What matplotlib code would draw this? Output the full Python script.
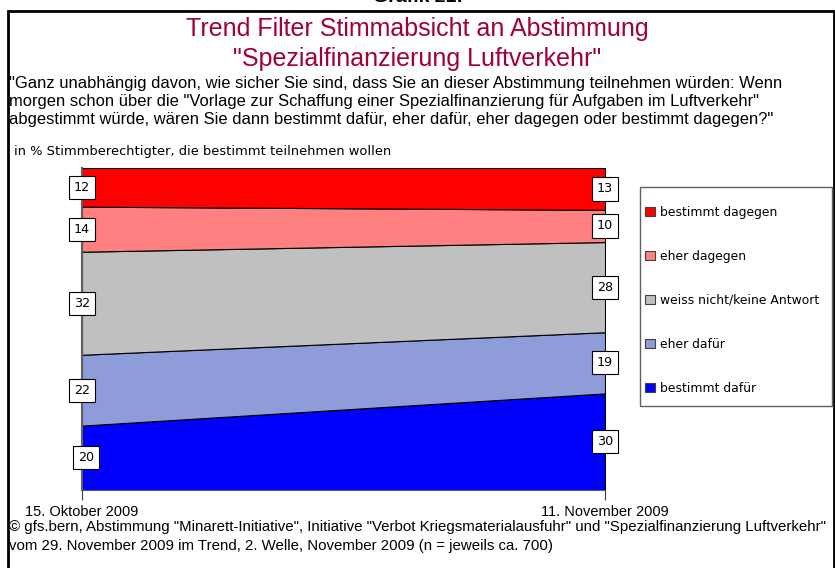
import matplotlib
matplotlib.use('agg')
import matplotlib.pyplot as plt
from matplotlib.patches import Patch, Rectangle

# data (bottom to top of stack)
dates = ["15. Oktober 2009", "11. November 2009"]
categories = ["bestimmt dafür", "eher dafür", "weiss nicht/keine Antwort",
              "eher dagegen", "bestimmt dagegen"]
okt = [20, 22, 32, 14, 12]
nov = [30, 19, 28, 10, 13]
colors = ["#0000FF", "#8E9CDA", "#C0C0C0", "#FF8080", "#FF0000"]

narrow = ['Liberation Sans Narrow', 'Liberation Sans', 'DejaVu Sans']
plt.rcParams['font.family'] = ['DejaVu Sans']

fig = plt.figure(figsize=(8.35, 5.68), dpi=100)
W, H = 835, 568

def fx(px):
    return px / W

def fy(py):
    return 1 - py / H

# outer frame
fig.patches.append(Rectangle((fx(8), fy(575)), fx(834) - fx(8), fy(11) - fy(575),
                             transform=fig.transFigure, fill=False,
                             edgecolor='black', linewidth=2))

fig.text(0.5, fy(-2), "Grafik 21:", ha='center', va='center', fontsize=14,
         fontweight='bold', family=['Liberation Sans', 'DejaVu Sans'])
fig.text(0.5, fy(29), "Trend Filter Stimmabsicht an Abstimmung", ha='center',
         va='center', fontsize=18, color='#A0003C', family=narrow)
fig.text(0.5, fy(59), "\"Spezialfinanzierung Luftverkehr\"", ha='center',
         va='center', fontsize=18, color='#A0003C', family=narrow)
question = ("\"Ganz unabhängig davon, wie sicher Sie sind, dass Sie an dieser Abstimmung teilnehmen würden: Wenn\n"
            "morgen schon über die \"Vorlage zur Schaffung einer Spezialfinanzierung für Aufgaben im Luftverkehr\"\n"
            "abgestimmt würde, wären Sie dann bestimmt dafür, eher dafür, eher dagegen oder bestimmt dagegen?\"")
fig.text(fx(9), fy(76), question, ha='left', va='top', fontsize=11.9,
         family=narrow, linespacing=1.24)
fig.text(fx(14), fy(152), "in % Stimmberechtigter, die bestimmt teilnehmen wollen",
         ha='left', va='center', fontsize=9.4)

ax = fig.add_axes([fx(82), fy(490), fx(605) - fx(82), fy(168) - fy(490)])
x = [0, 1]
series = [[a, b] for a, b in zip(okt, nov)]
ax.stackplot(x, *series, colors=colors, edgecolor='black', linewidth=0.8)
ax.set_xlim(0, 1)
ax.set_ylim(0, 100)
for s in ['top', 'right']:
    ax.spines[s].set_visible(False)
ax.spines['left'].set_color('#606060')
ax.spines['left'].set_linewidth(1.5)
ax.spines['bottom'].set_color('#606060')
ax.set_yticks([])
ax.set_xticks([0, 1])
ax.set_xticklabels(dates, fontsize=10.5, family=narrow)
ax.tick_params(axis='x', length=7, direction='out', color='#404040', pad=4)

# value labels
box = dict(boxstyle='square,pad=0.4', facecolor='white', edgecolor='black', linewidth=0.8)
for xi, vals in zip(x, [okt, nov]):
    base = 0
    for v in vals:
        xpos = xi
        if xi == 0 and base == 0:
            xpos = 0.008
        ax.text(xpos, base + v / 2, str(v), ha='center', va='center', fontsize=9.2,
                bbox=box, clip_on=False)
        base += v

# legend with its own frame
fig.patches.append(Rectangle((fx(640), fy(406)), fx(832) - fx(640), fy(187) - fy(406),
                             transform=fig.transFigure, facecolor='white',
                             edgecolor='#606060', linewidth=1.0))
handles = [Patch(facecolor=c, edgecolor='#404040', linewidth=0.8) for c in colors]
leg = fig.legend(handles[::-1], categories[::-1], loc='upper left',
                 bbox_to_anchor=(fx(645), fy(206)),
                 fontsize=8.9, labelspacing=2.5, handlelength=0.8,
                 handleheight=0.8, handletextpad=0.45, borderpad=0, borderaxespad=0,
                 frameon=False)

fig.text(fx(9), fy(527), "© gfs.bern, Abstimmung \"Minarett-Initiative\", Initiative \"Verbot Kriegsmaterialausfuhr\" und \"Spezialfinanzierung Luftverkehr\"",
         ha='left', va='center', fontsize=10.8, family=narrow)
fig.text(fx(9), fy(546), "vom 29. November 2009 im Trend, 2. Welle, November 2009 (n = jeweils ca. 700)",
         ha='left', va='center', fontsize=10.8, family=narrow)

fig.savefig("out.png", dpi=100)
